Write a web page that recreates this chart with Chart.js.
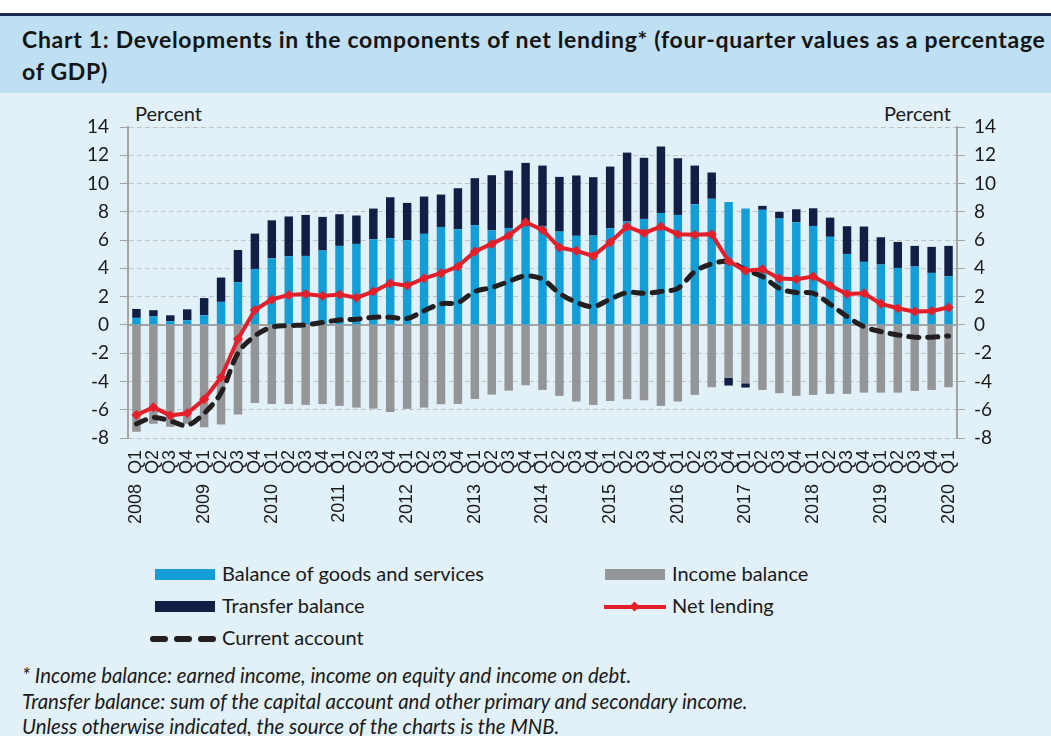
<!DOCTYPE html>
<html>
    <head>
        <title>Chart 1: Developments in the components of net lending</title>
        <style>
            body
            {
                margin: 0;
                width: 1051px;
                height: 736px;
                background: #e2f0f7;
                position: relative;
                overflow: hidden;
                font-family: Lato, "Open Sans", sans-serif;
                color: #1a1a1a;
            }

            #topBar
            {
                position: absolute;
                left: 0; top: 0;
                width: 1051px; height: 13px;
                background: #ffffff;
                border-bottom: 3px solid #1b2a52;
            }

            #titleBand
            {
                position: absolute;
                left: 0; top: 16px;
                width: 1051px; height: 77px;
                background: #bfe0f2;
            }

            #titleText
            {
                position: absolute;
                left: 22px; top: 7px;
                font: bold 23px Lato, sans-serif;
                letter-spacing: 0.7px;
                line-height: 32px;
                color: #141414;
                white-space: nowrap;
            }

            .percent
            {
                position: absolute;
                top: 101px;
                font-size: 20px;
            }

            #chartCanvas
            {
                position: absolute;
                left: 0; top: 95px;
            }

            .legendItem
            {
                position: absolute;
                font-size: 20px;
                line-height: 22px;
                height: 22px;
            }

            .swatch
            {
                display: inline-block;
                width: 60px; height: 11px;
                margin-right: 7px;
                vertical-align: 1px;
            }

            .notes
            {
                position: absolute;
                left: 22px; top: 663px;
                font-style: italic;
                font-size: 20.4px;
                line-height: 25.5px;
            }
        </style>
        <script src="https://cdn.jsdelivr.net/npm/chart.js"></script>
        <script>
            // quarters 2008 Q1 .. 2020 Q1
            const years = [2008, 2009, 2010, 2011, 2012, 2013, 2014, 2015, 2016, 2017, 2018, 2019, 2020];
            const quarters = ["Q1", "Q2", "Q3", "Q4"];

            const goodsServices = [0.5, 0.6, 0.26, 0.33, 0.68, 1.63, 3.02, 3.96, 4.72, 4.86, 4.88, 5.26, 5.59, 5.73, 6.06, 6.13,
                6.0, 6.44, 6.93, 6.77, 7.05, 6.7, 6.86, 7.0, 7.0, 6.6, 6.3, 6.32, 6.84, 7.31, 7.5, 7.92,
                7.78, 8.54, 8.92, 8.7, 8.23, 8.14, 7.52, 7.26, 7.0, 6.23, 5.02, 4.46, 4.27, 4.03, 4.13, 3.68, 3.44];
            const incomeBalance = [-7.55, -7.0, -7.2, -7.0, -7.24, -7.05, -6.34, -5.52, -5.6, -5.6, -5.66, -5.6, -5.73, -5.85, -5.92, -6.16,
                -5.94, -5.85, -5.61, -5.59, -5.24, -4.93, -4.65, -4.27, -4.6, -5.02, -5.42, -5.66, -5.38, -5.26, -5.33, -5.73,
                -5.42, -4.95, -4.41, -3.73, -4.13, -4.6, -4.83, -5.02, -4.95, -4.88, -4.88, -4.79, -4.79, -4.79, -4.67, -4.6, -4.41];
            const transferBalance = [0.63, 0.44, 0.42, 0.77, 1.22, 1.72, 2.28, 2.5, 2.68, 2.81, 2.9, 2.38, 2.24, 2.01, 2.17, 2.9,
                2.63, 2.64, 2.29, 2.9, 3.33, 3.89, 4.06, 4.46, 4.27, 3.87, 4.27, 4.13, 4.36, 4.88, 4.32, 4.7,
                4.01, 2.73, 1.86, -0.56, -0.3, 0.28, 0.48, 0.92, 1.25, 1.36, 1.96, 2.5, 1.93, 1.84, 1.46, 1.84, 2.15];
            const netLending = [-6.37, -5.83, -6.4, -6.25, -5.26, -3.7, -1.0, 1.06, 1.8, 2.12, 2.19, 2.05, 2.15, 1.93, 2.36, 2.95,
                2.78, 3.3, 3.66, 4.13, 5.19, 5.73, 6.32, 7.26, 6.72, 5.47, 5.24, 4.88, 5.85, 6.96, 6.49, 6.96,
                6.42, 6.37, 6.42, 4.5, 3.84, 3.94, 3.28, 3.23, 3.42, 2.78, 2.19, 2.24, 1.49, 1.18, 0.94, 0.99, 1.23];
            const currentAccount = [-7.0, -6.55, -6.8, -7.1, -6.25, -4.8, -2.0, -0.78, -0.16, -0.05, 0.0, 0.17, 0.35, 0.4, 0.54, 0.54,
                0.45, 1.0, 1.49, 1.58, 2.36, 2.64, 3.07, 3.47, 3.23, 2.24, 1.6, 1.3, 1.82, 2.29, 2.24, 2.36,
                2.59, 3.77, 4.32, 4.48, 3.89, 3.42, 2.59, 2.29, 2.24, 1.46, 0.59, -0.12, -0.47, -0.71, -0.87, -0.87, -0.78];

            const yMin = -8, yMax = 14, yStep = 2;

            function makeLabels()
            {
                let out = [];
                for (let y of years)
                {
                    for (let q of quarters)
                    {
                        if (out.length >= goodsServices.length) break;
                        out.push(q === "Q1" ? y + "  " + q : q);
                    }
                }
                return out;
            }

            // solid zero line on top of the dashed grid
            const zeroLine = {
                id: "zeroLine",
                beforeDatasetsDraw(chart)
                {
                    const ctx = chart.ctx;
                    const y = chart.scales.y.getPixelForValue(0);
                    ctx.save();
                    ctx.strokeStyle = "#a3a3a3";
                    ctx.lineWidth = 2;
                    ctx.beginPath();
                    ctx.moveTo(chart.chartArea.left, y);
                    ctx.lineTo(chart.chartArea.right, y);
                    ctx.stroke();
                    ctx.restore();
                }
            };

            function init()
            {
                const tickFont = {family: "Lato", size: 19};
                const canvas = document.getElementById("chartCanvas");
                new Chart(canvas, {
                    type: "bar",
                    data: {
                        labels: makeLabels(),
                        datasets: [
                            {label: "Balance of goods and services", data: goodsServices, backgroundColor: "#149ed8", stack: "bars", order: 3},
                            {label: "Income balance", data: incomeBalance, backgroundColor: "#939598", stack: "bars", order: 3},
                            {label: "Transfer balance", data: transferBalance, backgroundColor: "#111f45", stack: "bars", order: 3},
                            {
                                type: "line", label: "Current account", data: currentAccount, stack: "ca", order: 2,
                                borderColor: "#231f20", borderWidth: 5, borderDash: [10, 9], borderCapStyle: "round",
                                pointRadius: 0, tension: 0.35, fill: false
                            },
                            {
                                type: "line", label: "Net lending", data: netLending, stack: "nl", order: 1,
                                borderColor: "#e3202a", borderWidth: 4, pointStyle: "rectRot", pointRadius: 5,
                                pointBackgroundColor: "#e3202a", pointBorderColor: "#e3202a", pointBorderWidth: 0,
                                tension: 0, fill: false
                            }
                        ]
                    },
                    options: {
                        responsive: false,
                        animation: false,
                        devicePixelRatio: 1,
                        layout: {padding: {top: 32, left: 0, right: 0, bottom: 0}},
                        plugins: {legend: {display: false}, tooltip: {enabled: false}},
                        datasets: {bar: {barPercentage: 0.5, categoryPercentage: 1.0}},
                        scales: {
                            x: {
                                stacked: true,
                                offset: true,
                                grid: {display: false, drawTicks: false},
                                border: {display: false},
                                ticks: {
                                    autoSkip: false, maxRotation: 90, minRotation: 90, padding: 12,
                                    color: "#1a1a1a", font: {family: "Liberation Sans", size: 18}
                                },
                                afterFit(scale) { scale.height = 107; }
                            },
                            y: {
                                stacked: true,
                                position: "left",
                                min: yMin, max: yMax,
                                grid: {color: "#c2c2c2", lineWidth: 1, tickLength: 8, tickBorderDash: [], tickColor: "#a3a3a3"},
                                border: {display: true, color: "#a3a3a3", width: 2, dash: [5, 3]},
                                ticks: {stepSize: yStep, padding: 11, color: "#1a1a1a", font: tickFont},
                                afterFit(scale) { scale.width = 128; }
                            },
                            y2: {
                                position: "right",
                                min: yMin, max: yMax,
                                grid: {drawOnChartArea: false, tickLength: 8, tickColor: "#a3a3a3"},
                                border: {display: true, color: "#a3a3a3", width: 2},
                                ticks: {stepSize: yStep, padding: 9, color: "#1a1a1a", font: tickFont},
                                afterFit(scale) { scale.width = 94; }
                            }
                        }
                    },
                    plugins: [zeroLine]
                });
            }
        </script>
    </head>
    <body onload="init();">
        <div id="topBar"></div>
        <div id="titleBand">
            <div id="titleText">Chart 1: Developments in the components of net lending* (four-quarter values as a percentage<br>of GDP)</div>
        </div>
        <div class="percent" style="left: 135px;">Percent</div>
        <div class="percent" style="left: 884px;">Percent</div>

        <canvas id="chartCanvas" width="1051" height="450"></canvas>

        <div class="legendItem" style="left: 155px; top: 562px;"><span class="swatch" style="background: #149ed8;"></span>Balance of goods and services</div>
        <div class="legendItem" style="left: 605px; top: 562px;"><span class="swatch" style="background: #939598;"></span>Income balance</div>
        <div class="legendItem" style="left: 155px; top: 594px;"><span class="swatch" style="background: #111f45;"></span>Transfer balance</div>
        <div class="legendItem" style="left: 604px; top: 594px;">
            <span style="display: inline-block; position: relative; width: 62px; height: 11px; margin-right: 6px; vertical-align: 1px;">
                <span style="position: absolute; left: 0; top: 4px; width: 62px; height: 4px; background: #e3202a;"></span>
                <span style="position: absolute; left: 27px; top: 2px; width: 7px; height: 7px; background: #e3202a; transform: rotate(45deg);"></span>
            </span>Net lending
        </div>
        <div class="legendItem" style="left: 150px; top: 626px;">
            <span style="display: inline-block; width: 68px; height: 11px; margin-right: 4px; vertical-align: 1px; position: relative;">
                <span style="position: absolute; left: 0; top: 3px; width: 18px; height: 6px; border-radius: 3px; background: #231f20;"></span>
                <span style="position: absolute; left: 24px; top: 3px; width: 18px; height: 6px; border-radius: 3px; background: #231f20;"></span>
                <span style="position: absolute; left: 48px; top: 3px; width: 18px; height: 6px; border-radius: 3px; background: #231f20;"></span>
            </span>Current account
        </div>

        <div class="notes">
            * Income balance: earned income, income on equity and income on debt.<br>
            Transfer balance: sum of the capital account and other primary and secondary income.<br>
            Unless otherwise indicated, the source of the charts is the MNB.
        </div>
    </body>
</html>
